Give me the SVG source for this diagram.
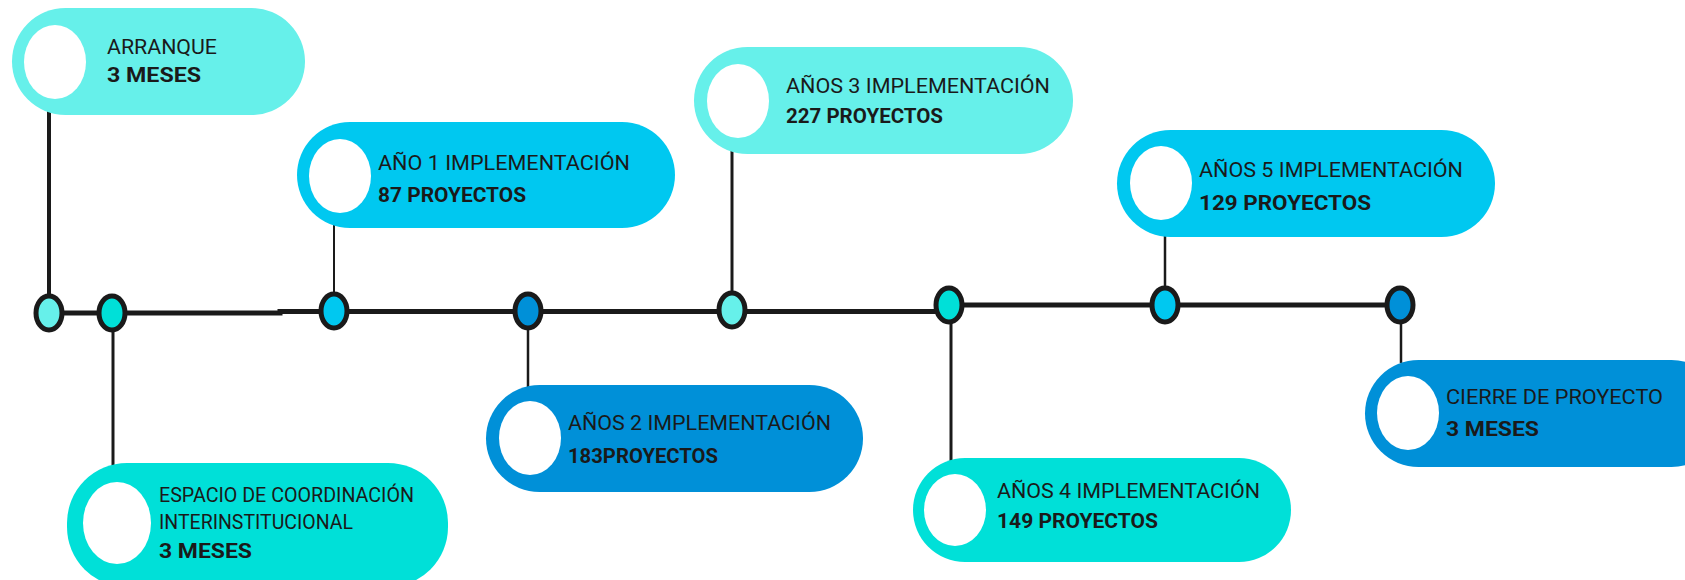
<svg xmlns="http://www.w3.org/2000/svg" width="1685" height="580" viewBox="0 0 1685 580">
<style>
.c1{fill:#66F0EA}.c2{fill:#00E0D8}.c3{fill:#00C8F0}.c4{fill:#0090D8}
.hole{fill:#ffffff}
.t{font-family:Roboto,"Liberation Sans",sans-serif;font-size:21px;fill:#1a1a1a}
.b{font-weight:bold}
.ln{stroke:#1a1a1a;fill:none}
.dot{stroke:#1a1a1a;stroke-width:5}
</style>
<rect width="1685" height="580" fill="#ffffff"/>
<g id="connectors">
<polyline class="ln" stroke-width="5" points="49,313 280,313 280,311.5 949,311.5 949,305 1400,305"/>
<line class="ln" stroke-width="4" x1="49" y1="110" x2="49" y2="313"/>
<line class="ln" stroke-width="3" x1="113" y1="312" x2="113" y2="466"/>
<line class="ln" stroke-width="2" x1="334" y1="224" x2="334" y2="311"/>
<line class="ln" stroke-width="2.5" x1="528" y1="311" x2="528" y2="388"/>
<line class="ln" stroke-width="3" x1="732" y1="150" x2="732" y2="310"/>
<line class="ln" stroke-width="3" x1="951" y1="305" x2="951" y2="461"/>
<line class="ln" stroke-width="2.5" x1="1165" y1="233" x2="1165" y2="305"/>
<line class="ln" stroke-width="2.5" x1="1401" y1="305" x2="1401" y2="363"/>
</g>
<g id="dots">
<ellipse class="dot c1" cx="49" cy="313" rx="13" ry="17"/>
<ellipse class="dot c2" cx="112" cy="313" rx="13" ry="17"/>
<ellipse class="dot c3" cx="334" cy="311" rx="13" ry="17"/>
<ellipse class="dot c4" cx="528" cy="311" rx="13" ry="17"/>
<ellipse class="dot c1" cx="732" cy="310" rx="13" ry="17"/>
<ellipse class="dot c2" cx="949" cy="305" rx="13" ry="17"/>
<ellipse class="dot c3" cx="1165" cy="305" rx="13" ry="17"/>
<ellipse class="dot c4" cx="1400" cy="305" rx="13" ry="17"/>
</g>
<g id="arranque">
<rect class="c1" x="12" y="8" width="293" height="107" rx="53.5"/>
<ellipse class="hole" cx="55" cy="62" rx="31" ry="37"/>
<text class="t" x="107" y="54" textLength="110" lengthAdjust="spacingAndGlyphs">ARRANQUE</text>
<text class="t b" x="107" y="82" textLength="94" lengthAdjust="spacingAndGlyphs">3 MESES</text>
</g>
<g id="espacio">
<rect class="c2" x="67" y="463" width="381" height="124" rx="60"/>
<ellipse class="hole" cx="117" cy="523" rx="34" ry="41"/>
<text class="t" x="159" y="502" textLength="255" lengthAdjust="spacingAndGlyphs">ESPACIO DE COORDINACIÓN</text>
<text class="t" x="159" y="529" textLength="194" lengthAdjust="spacingAndGlyphs">INTERINSTITUCIONAL</text>
<text class="t b" x="159" y="558" textLength="93" lengthAdjust="spacingAndGlyphs">3 MESES</text>
</g>
<g id="ano1">
<rect class="c3" x="297" y="122" width="378" height="106" rx="53"/>
<ellipse class="hole" cx="340" cy="176" rx="31" ry="37"/>
<text class="t" x="378" y="170" textLength="252" lengthAdjust="spacingAndGlyphs">AÑO 1 IMPLEMENTACIÓN</text>
<text class="t b" x="378" y="202" textLength="148" lengthAdjust="spacingAndGlyphs">87 PROYECTOS</text>
</g>
<g id="anos2">
<rect class="c4" x="486" y="385" width="377" height="107" rx="53.5"/>
<ellipse class="hole" cx="530" cy="438" rx="31" ry="37"/>
<text class="t" x="568" y="430" textLength="263" lengthAdjust="spacingAndGlyphs">AÑOS 2 IMPLEMENTACIÓN</text>
<text class="t b" x="568" y="463" textLength="150" lengthAdjust="spacingAndGlyphs">183PROYECTOS</text>
</g>
<g id="anos3">
<rect class="c1" x="694" y="47" width="379" height="107" rx="53.5"/>
<ellipse class="hole" cx="738" cy="101" rx="31" ry="37"/>
<text class="t" x="786" y="93" textLength="264" lengthAdjust="spacingAndGlyphs">AÑOS 3 IMPLEMENTACIÓN</text>
<text class="t b" x="786" y="123" textLength="157" lengthAdjust="spacingAndGlyphs">227 PROYECTOS</text>
</g>
<g id="anos4">
<rect class="c2" x="913" y="458" width="378" height="104" rx="52"/>
<ellipse class="hole" cx="955" cy="510" rx="31" ry="36"/>
<text class="t" x="997" y="498" textLength="263" lengthAdjust="spacingAndGlyphs">AÑOS 4 IMPLEMENTACIÓN</text>
<text class="t b" x="997" y="528" textLength="161" lengthAdjust="spacingAndGlyphs">149 PROYECTOS</text>
</g>
<g id="anos5">
<rect class="c3" x="1117" y="130" width="378" height="107" rx="53.5"/>
<ellipse class="hole" cx="1161" cy="183" rx="31" ry="37"/>
<text class="t" x="1199" y="177" textLength="264" lengthAdjust="spacingAndGlyphs">AÑOS 5 IMPLEMENTACIÓN</text>
<text class="t b" x="1199" y="210" textLength="172" lengthAdjust="spacingAndGlyphs">129 PROYECTOS</text>
</g>
<g id="cierre">
<rect class="c4" x="1365" y="360" width="360" height="107" rx="53.5"/>
<ellipse class="hole" cx="1408" cy="413" rx="31" ry="37"/>
<text class="t" x="1446" y="404" textLength="217" lengthAdjust="spacingAndGlyphs">CIERRE DE PROYECTO</text>
<text class="t b" x="1446" y="436" textLength="93" lengthAdjust="spacingAndGlyphs">3 MESES</text>
</g>
</svg>
